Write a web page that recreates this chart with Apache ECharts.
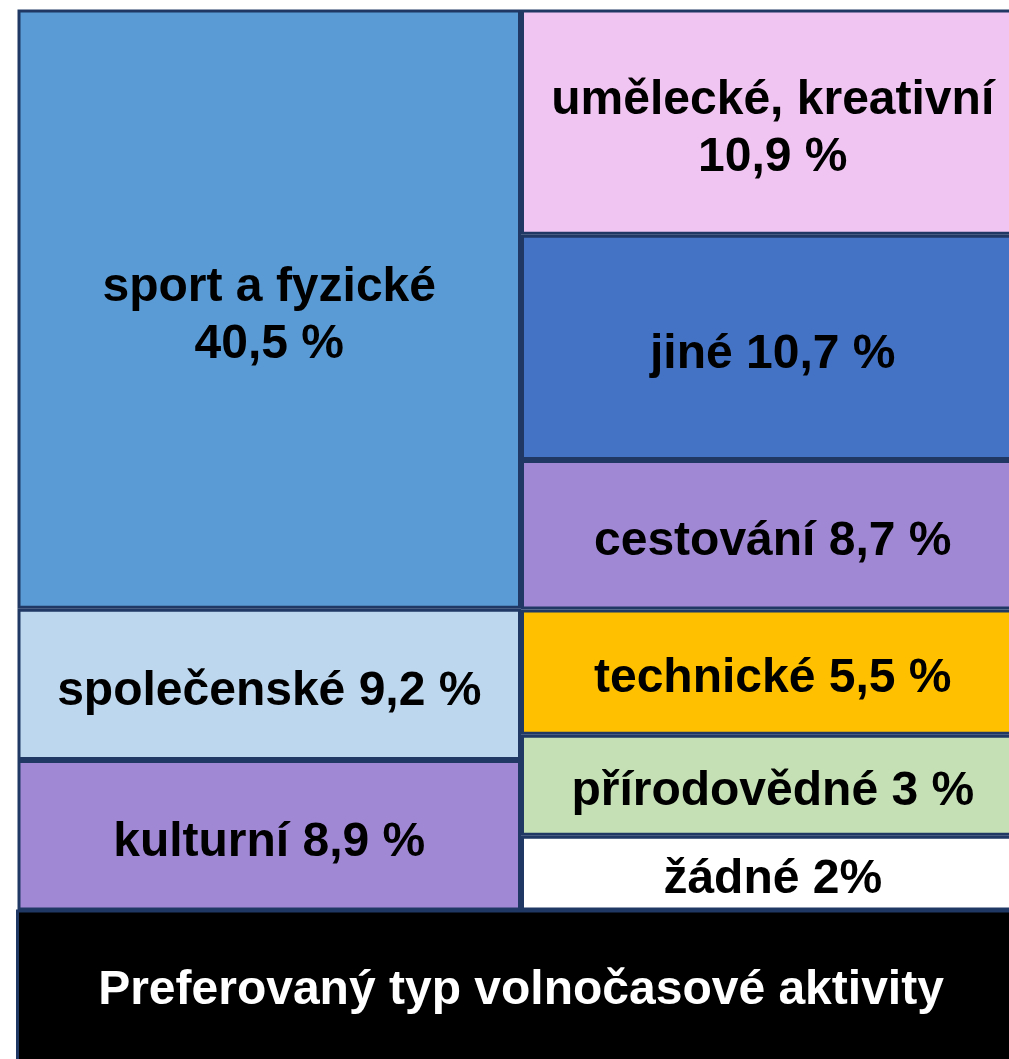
<!DOCTYPE html>
<html lang="cs">
<head>
    <meta charset="UTF-8">
    <title>Preferovaný typ volnočasové aktivity</title>
    <script src="https://cdn.jsdelivr.net/npm/echarts@6.0.0/dist/echarts.min.js"></script>
    <style>
        html, body { margin: 0; padding: 0; overflow: hidden; background: #fff; }
    </style>
</head>
<body>
    <!-- the chart is a bit wider than the window, the right edge is cut off like in the original -->
    <div id="main" style="width: 1030px; height: 1059px;"></div>
    <script type="text/javascript">
        // left column, top to bottom
        const leftNames = ['sport a fyzické', 'společenské', 'kulturní'];
        const leftPct = ['40,5 %', '9,2 %', '8,9 %'];
        const leftShare = [66.5, 16.8, 16.7];   // share of column height
        const leftColors = ['#5b9bd5', '#bdd7ee', '#a088d5'];

        // right column, top to bottom
        const rightNames = ['umělecké, kreativní', 'jiné', 'cestování', 'technické', 'přírodovědné', 'žádné'];
        const rightPct = ['10,9 %', '10,7 %', '8,7 %', '5,5 %', '3 %', '2%'];
        const rightShare = [25.0, 25.0, 16.6, 13.9, 11.2, 8.3];
        const rightColors = ['#f1c5f2', '#4472c4', '#a088d5', '#ffc000', '#c5e0b4', '#ffffff'];

        // names that are split onto two lines
        const twoLines = ['sport a fyzické', 'umělecké, kreativní'];

        const titleText = 'Preferovaný typ volnočasové aktivity';

        let myChart = echarts.init(document.getElementById('main'));

        const font = '"Liberation Sans", Arial, sans-serif';

        function block(name, pct, share, color, col) {
            const data = col === 0 ? [share, '-'] : ['-', share];
            const sep = twoLines.includes(name) ? '\n' : ' ';
            return {
                name: name,
                type: 'bar',
                stack: 'all',
                barWidth: '100%',
                barCategoryGap: '0%',
                data: data,
                itemStyle: {
                    color: color,
                    borderColor: '#1f3864',
                    borderWidth: 3
                },
                label: {
                    show: true,
                    position: 'inside',
                    offset: [0, 7],
                    formatter: name + sep + pct,
                    color: '#000',
                    fontFamily: font,
                    fontWeight: 'bold',
                    fontSize: 48,
                    lineHeight: 57
                },
                emphasis: { disabled: true }
            };
        }

        let series = [];
        leftNames.forEach((n, i) => series.push(block(n, leftPct[i], leftShare[i], leftColors[i], 0)));
        rightNames.forEach((n, i) => series.push(block(n, rightPct[i], rightShare[i], rightColors[i], 1)));

        let options = {
            animation: false,
            grid: { left: 17.5, top: 9.5, width: 1007, height: 901 },
            xAxis: { type: 'category', data: ['L', 'R'], show: false },
            yAxis: { type: 'value', min: 0, max: 100, inverse: true, show: false },
            series: series,
            graphic: [
                {
                    type: 'rect',
                    z: 10,
                    shape: { x: 17.5, y: 911, width: 1007, height: 160 },
                    style: { fill: '#000', stroke: '#1f3864', lineWidth: 3 }
                },
                {
                    type: 'text',
                    z: 11,
                    x: 521,
                    y: 991,
                    style: {
                        text: titleText,
                        fill: '#fff',
                        font: 'bold 48px ' + font,
                        textAlign: 'center',
                        textVerticalAlign: 'middle'
                    }
                }
            ]
        };

        myChart.setOption(options);
    </script>
</body>
</html>
